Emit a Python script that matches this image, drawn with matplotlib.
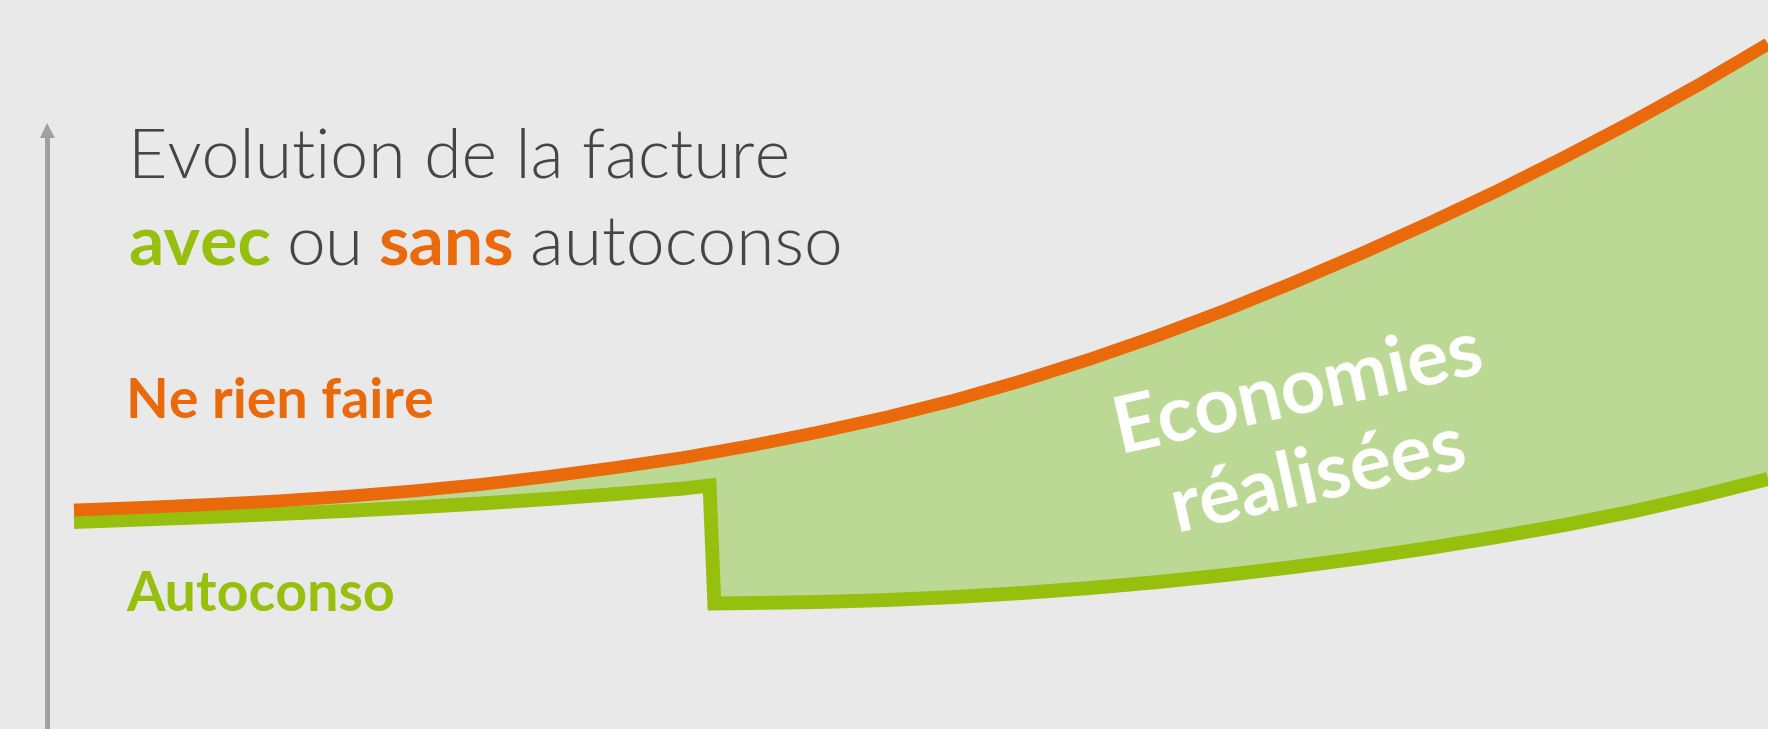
import matplotlib.pyplot as plt

# years since start, bill value (arbitrary units)
annees = list(range(26))
ne_rien_faire = [438, 443, 449, 456, 465, 476, 489, 505, 523, 543, 567, 594, 624,
                 658, 697, 740, 787, 838, 893, 951, 1012, 1076, 1144, 1215, 1290, 1370]

# autoconso: slow rise, then a drop once the installation is running
annees_auto = [0, 1, 2, 3, 4, 5, 6, 7, 8, 9, 9.38, 9.45, 10, 11, 12, 13, 14, 15,
               16, 17, 18, 19, 20, 21, 22, 23, 24, 25]
autoconso = [414, 419, 424, 430, 436, 443, 451, 460, 470, 481, 487, 251, 252, 254,
             258, 264, 272, 282, 294, 308, 324, 342, 362, 384, 408, 435, 466, 500]

bg = '#e9e9e9'
orange = '#ea690b'
green = '#97bf0d'
fill_green = '#bbd895'
dark = '#454545'
grey = '#a0a0a0'
font = 'Lato'

fig = plt.figure(figsize=(17.68, 7.29), dpi=100)
fig.patch.set_facecolor(bg)
ax = fig.add_axes([0, 0, 1, 1])
ax.set_facecolor(bg)
ax.set_xlim(-1.092, 25)
ax.set_ylim(0, 1458)
ax.axis('off')

# savings area between the two curves
ax.fill(annees + annees_auto[::-1], ne_rien_faire + autoconso[::-1],
        color=fill_green, lw=0, zorder=1)

ax.plot(annees_auto, autoconso, color=green, lw=10, solid_joinstyle='miter',
        solid_capstyle='butt', zorder=2)
ax.plot(annees, ne_rien_faire, color=orange, lw=9.2, solid_capstyle='butt', zorder=3)

# vertical axis with arrow
ax.plot([-0.398, -0.398], [0, 1190], color=grey, lw=3.6, solid_capstyle='butt', zorder=2)
ax.plot(-0.398, 1199, marker='^', markersize=10.8, color=grey, mew=0, zorder=2)

# title
ax.text(0.80, 1104, "Evolution de la facture", color=dark, family=font,
        weight=300, size=49, va='baseline')
t = ax.text(0.80, 928, "avec", color=green, family=font, weight='bold',
            size=50, va='baseline')
for word, col, w in [("ou", dark, 300), ("sans", orange, 'bold'),
                     ("autoconso", dark, 300)]:
    t = ax.annotate(word, xy=(1, 0), xycoords=t, xytext=(11, 0),
                    textcoords='offset points', va='bottom', color=col,
                    family=font, weight=w, size=50)

ax.text(0.77, 622, "Ne rien faire", color=orange, family=font, weight='bold',
        size=40, va='baseline')
ax.text(0.77, 236, "Autoconso", color=green, family=font, weight='bold',
        size=40, va='baseline')

# anchored on the baseline of the second line
ax.text(18.37, 494, "Economies\nréalisées", color='white', family=font,
        weight='bold', size=56, ha='center', va='baseline', rotation=12.6,
        rotation_mode='anchor', linespacing=1.3, zorder=4)

fig.savefig('out.png', dpi=100, facecolor=bg)
